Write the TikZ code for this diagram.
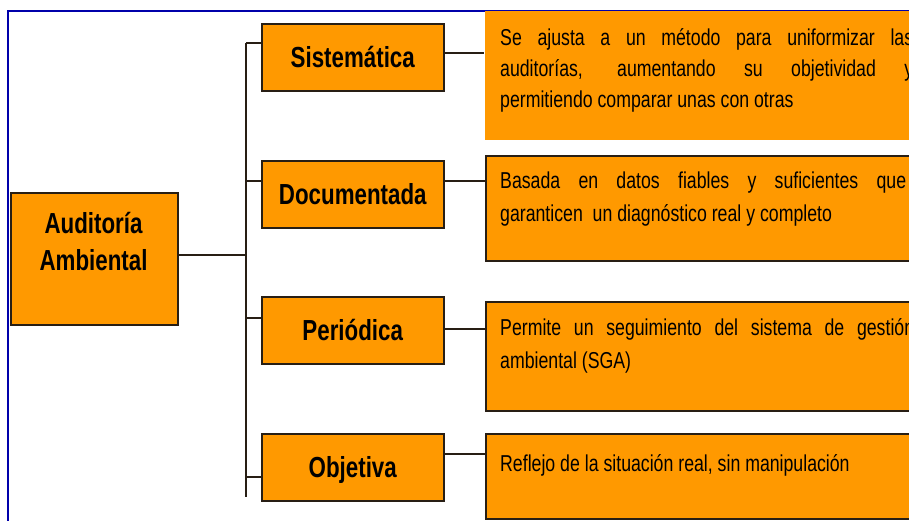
\documentclass[tikz,border=0pt]{standalone}
\usepackage{fontspec}
\setmainfont[FakeStretch=0.77]{Liberation Sans}
\begin{document}
\begin{tikzpicture}[x=1pt,y=-1pt]
\definecolor{org}{RGB}{255,153,0}
\definecolor{framecol}{RGB}{0,0,170}
\definecolor{edge}{RGB}{40,30,20}
\tikzset{
  box/.style={draw=edge, line width=1.5pt, fill=org, anchor=north west, inner sep=0pt},
  catbox/.style={box, minimum width=182pt, minimum height=67pt,
    text height=21pt, text depth=0pt, font=\fontsize{29}{36}\selectfont\bfseries},
  descbox/.style={box, minimum width=430pt},
  desctext/.style={anchor=base west, inner sep=0pt, font=\fontsize{23}{32}\selectfont},
  conn/.style={draw=edge, line width=1.4pt}
}
\useasboundingbox (0,0) rectangle (909,520);
\clip (0,0) rectangle (909,520);
\fill[white] (0,0) rectangle (909,520);
% frame
\draw[framecol, line width=2pt] (7.5,530) -- (7.5,10.5) -- (920,10.5);

% main box
\node[box, minimum width=167pt, minimum height=132pt] (aud) at (10,192) {};
\node[anchor=base, inner sep=0pt, font=\fontsize{29}{37}\selectfont\bfseries] (audlbl) at (93.5,233)
  {\parbox[t]{160pt}{\centering\baselineskip=37pt Auditoría\\Ambiental}};

% category boxes
\node[catbox] (sis) at (261,23) {Sistemática};
\node[catbox] (doc) at (261,160) {Documentada};
\node[catbox] (per) at (261,296) {Periódica};
\node[catbox] (obj) at (261,433) {Objetiva};

% description boxes
\node[descbox, draw=none, minimum height=129pt] (d1) at (484,10) {};
\node[descbox, minimum height=105pt] (d2) at (485,155) {};
\node[descbox, minimum height=109pt] (d3) at (485,301) {};
\node[descbox, minimum height=85pt] (d4) at (485,433) {};

\node[desctext] (t1) at (500,45) {\parbox[t]{420pt}{\baselineskip=31pt
  \makebox[413pt][s]{Se ajusta a un método para uniformizar las}\\
  \makebox[413pt][s]{auditorías, aumentando su objetividad y}\\
  permitiendo comparar unas con otras}};
\node[desctext] (t2) at (500,188) {\parbox[t]{420pt}{\baselineskip=33pt
  \makebox[406pt][s]{Basada en datos fiables y suficientes que}\\
  garanticen\ \ un diagnóstico real y completo}};
\node[desctext] (t3) at (500,335) {\parbox[t]{420pt}{\baselineskip=33pt
  \makebox[414pt][s]{Permite un seguimiento del sistema de gestión}\\
  ambiental (SGA)}};
\node[desctext] (t4) at (500,471) {Reflejo de la situación real, sin manipulación};

% trunk
\coordinate (ttop) at (246,43);
\coordinate (tb2) at (246,181);
\coordinate (tb3) at (246,318);
\coordinate (tb4) at (246,477);
\coordinate (tbot) at (246,497);
\coordinate (jn) at (246,255);
\draw[conn] (ttop) -- (tbot);
\draw[conn] (aud.east |- jn) -- (jn);
\draw[conn] (ttop) -- (ttop -| sis.west);
\draw[conn] (tb2) -- (tb2 -| doc.west);
\draw[conn] (tb3) -- (tb3 -| per.west);
\draw[conn] (tb4) -- (tb4 -| obj.west);

% right connectors
\coordinate (r1) at (464,53);
\coordinate (r2) at (464,181);
\coordinate (r3) at (464,329);
\coordinate (r4) at (464,454);
\draw[conn] (sis.east |- r1) -- (d1.west |- r1);
\draw[conn] (doc.east |- r2) -- (d2.west |- r2);
\draw[conn] (per.east |- r3) -- (d3.west |- r3);
\draw[conn] (obj.east |- r4) -- (d4.west |- r4);
\end{tikzpicture}
\end{document}
